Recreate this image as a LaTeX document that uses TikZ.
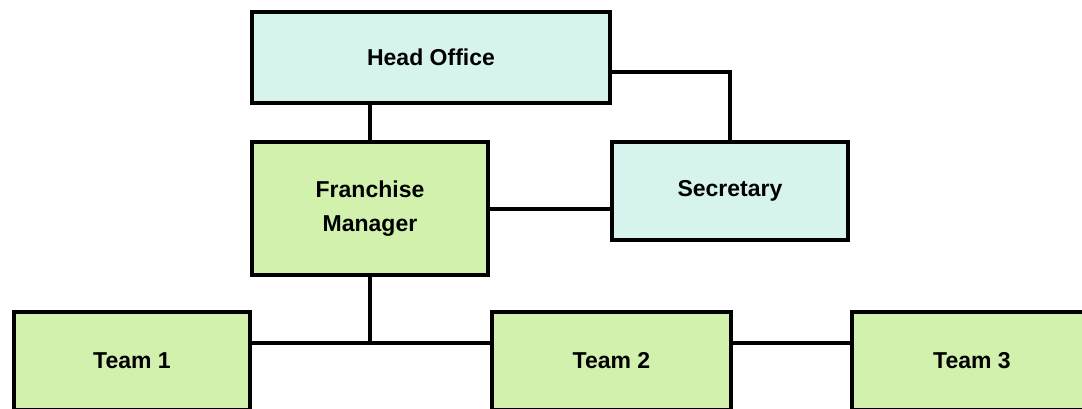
\documentclass[tikz,border=0pt]{standalone}
\usepackage{fontspec}
\setmainfont{Liberation Sans}
\definecolor{officecyan}{RGB}{214,243,237}
\definecolor{teamgreen}{RGB}{210,241,172}
\tikzset{
  unit/.style={draw=black, line width=4.5pt, inner sep=0pt, align=center,
    font=\bfseries\fontsize{23}{34}\selectfont},
  cyanbox/.style={unit, fill=officecyan},
  greenbox/.style={unit, fill=teamgreen},
  link/.style={line width=4pt}
}
\begin{document}
\begin{tikzpicture}[x=1pt,y=-1pt]
      \fill[white] (0,0) rectangle (1082,408);
      \useasboundingbox (0,0) rectangle (1082,408);
      \draw
        (431,57.5) node[cyanbox, minimum width=358pt, minimum height=91pt] (ho){Head Office}
        (370,208.5) node[greenbox, minimum width=236pt, minimum height=133pt] (fm){Franchise\\Manager}
        (730,191) node[cyanbox, minimum width=236pt, minimum height=98pt] (sec){Secretary}
        (132,361) node[greenbox, minimum width=236pt, minimum height=98pt] (t1){Team 1}
        (611.5,361) node[greenbox, minimum width=239pt, minimum height=98pt] (t2){Team 2}
        (972,361) node[greenbox, minimum width=240pt, minimum height=98pt] (t3){Team 3};
      \coordinate (jn) at (370,343);
      \begin{scope}[link]
        \draw (fm.north) to (fm.north |- ho.south);
        \draw ([yshift=-14.5pt]ho.east) -| (sec.north);
        \draw (fm.east) to (fm.east -| sec.west);
        \draw (fm.south) to (jn);
        \draw ([yshift=18pt]t1.east) to ([yshift=18pt]t2.west);
        \draw ([yshift=18pt]t2.east) to ([yshift=18pt]t3.west);
      \end{scope}
    \end{tikzpicture}
\end{document}
